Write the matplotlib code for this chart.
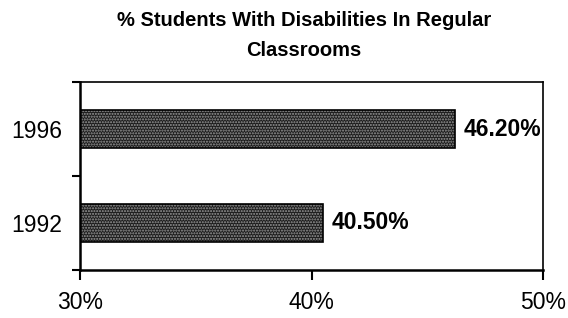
import matplotlib
matplotlib.use("Agg")
from matplotlib import pyplot as plt

# Datos
anios = ["1992", "1996"]
porcentajes = [40.5, 46.2]
etiquetas = ["40.50%", "46.20%"]
ticks_x = [30, 40, 50]
ticks_x_labels = ["30%", "40%", "50%"]

plt.rcParams['font.family'] = ['Liberation Sans', 'DejaVu Sans']

fig = plt.figure(figsize=(5.68, 3.18), dpi=100)
ax = fig.add_axes([0.141, 0.151, 0.815, 0.591])

pos = list(range(len(anios)))
# Relleno punteado oscuro
ax.barh(pos, [p - 30 for p in porcentajes], left=30, height=0.4,
        color="#1c1c1c", edgecolor="#9a9a9a", linewidth=0, hatch="......")
# Contorno
ax.barh(pos, [p - 30 for p in porcentajes], left=30, height=0.4,
        color="none", edgecolor="black", linewidth=1.2)

for i, (p, et) in enumerate(zip(porcentajes, etiquetas)):
    ax.annotate(et, (p, i), xytext=(6, 0), textcoords="offset points",
                va="center", ha="left", fontsize=16.5, fontweight="bold")

ax.set_xlim(30, 50)
ax.set_ylim(-0.5, 1.5)
ax.set_xticks(ticks_x)
ax.set_xticklabels(ticks_x_labels, fontsize=16.5)
ax.tick_params(axis="x", length=7, width=1.5, pad=8)

# Marcas en los limites de categoria, etiquetas centradas
ax.set_yticks([-0.5, 0.5, 1.5])
ax.set_yticklabels([])
ax.tick_params(axis="y", which="major", length=6, width=1.5)
ax.set_yticks(pos, minor=True)
ax.set_yticklabels(anios, minor=True, fontsize=16.5)
ax.tick_params(axis="y", which="minor", length=0, pad=13)

for lado in ["left", "bottom"]:
    ax.spines[lado].set_linewidth(1.8)
for lado in ["top", "right"]:
    ax.spines[lado].set_linewidth(1.2)

fig.suptitle("% Students With Disabilities In Regular\nClassrooms",
             fontsize=14.5, fontweight="bold", y=1 - 11 / 318, va="top",
             x=0.535, linespacing=1.75)

plt.savefig("out.png", dpi=100)
